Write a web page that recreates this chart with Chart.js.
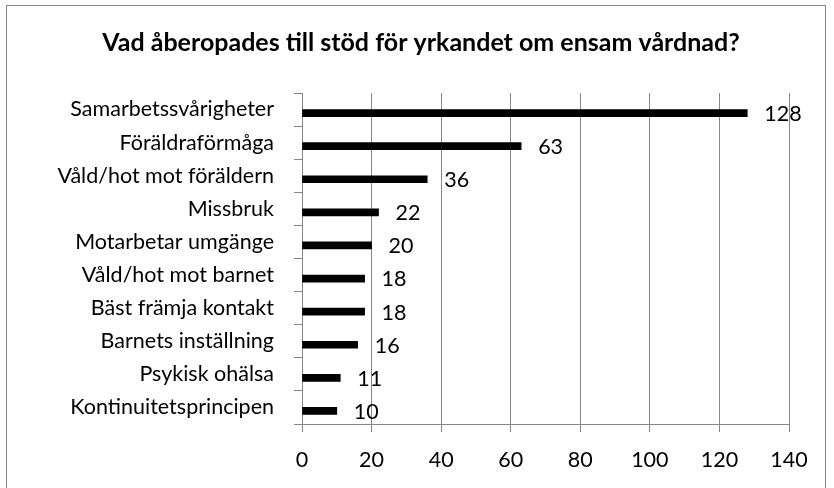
<!DOCTYPE html>
<html>
<head>
<meta charset="utf-8">
<script src="https://cdn.jsdelivr.net/npm/chart.js@4/dist/chart.umd.min.js"></script>
<style>
  html, body { margin: 0; padding: 0; background: #fff; }
  #chart { display: block; }
</style>
</head>
<body>
<canvas id="chart" width="834" height="488"></canvas>
<script>
const chartTitle = 'Vad åberopades till stöd för yrkandet om ensam vårdnad?';
const categories = [
  'Samarbetssvårigheter',
  'Föräldraförmåga',
  'Våld/hot mot föräldern',
  'Missbruk',
  'Motarbetar umgänge',
  'Våld/hot mot barnet',
  'Bäst främja kontakt',
  'Barnets inställning',
  'Psykisk ohälsa',
  'Kontinuitetsprincipen'
];
const counts = [128, 63, 36, 22, 20, 18, 18, 16, 11, 10];
// second (empty) series slot in the original, keeps the bars shifted down
const emptySeries = [null, null, null, null, null, null, null, null, null, null];
const xTicks = [0, 20, 40, 60, 80, 100, 120, 140];

const gridGrey = '#878787';
const fontFamily = 'Lato, "Open Sans", sans-serif';
const labelSize = 21.5;

// border + title
const frame = {
  id: 'frame',
  beforeDraw(chart) {
    const ctx = chart.ctx;
    ctx.save();
    ctx.fillStyle = '#fff';
    ctx.fillRect(0, 0, chart.width, chart.height);
    ctx.strokeStyle = gridGrey;
    ctx.lineWidth = 1;
    ctx.strokeRect(6.5, 5.5, 819, 520);
    ctx.fillStyle = '#000';
    ctx.font = 'bold 25px ' + fontFamily;
    ctx.textAlign = 'center';
    ctx.textBaseline = 'middle';
    ctx.fillText(chartTitle, 421, 43);
    ctx.restore();
  }
};

// value labels right of each bar
const valueLabels = {
  id: 'valueLabels',
  afterDatasetsDraw(chart) {
    const ctx = chart.ctx;
    const meta = chart.getDatasetMeta(1);
    ctx.save();
    ctx.fillStyle = '#000';
    ctx.font = labelSize + 'px ' + fontFamily;
    ctx.textAlign = 'left';
    ctx.textBaseline = 'middle';
    meta.data.forEach((bar, i) => {
      ctx.fillText(String(counts[i]), bar.x + 17, bar.y + 1);
    });
    ctx.restore();
  }
};

new Chart(document.getElementById('chart'), {
  type: 'bar',
  data: {
    labels: categories,
    datasets: [
      { data: emptySeries, backgroundColor: '#000' },
      { data: counts, backgroundColor: '#000', barThickness: 7 }
    ]
  },
  options: {
    indexAxis: 'y',
    responsive: false,
    animation: false,
    events: [],
    categoryPercentage: 0.81,
    layout: { padding: { left: 10, right: 45, top: 93, bottom: 0 } },
    plugins: {
      legend: { display: false },
      tooltip: { enabled: false }
    },
    scales: {
      x: {
        min: 0,
        max: 140,
        afterFit(scale) { scale.height = 64; },
        afterBuildTicks(scale) { scale.ticks = xTicks.map(v => ({ value: v })); },
        grid: { color: gridGrey, lineWidth: 1, tickLength: 8 },
        border: { color: gridGrey },
        ticks: { color: '#000', padding: 15, font: { family: fontFamily, size: labelSize } }
      },
      y: {
        afterFit(scale) { scale.width = 292; },
        grid: { color: gridGrey, drawOnChartArea: false, offset: true, tickLength: 8 },
        border: { color: gridGrey },
        ticks: { color: '#000', padding: 20, font: { family: fontFamily, size: labelSize } }
      }
    }
  },
  plugins: [frame, valueLabels]
});
</script>
</body>
</html>
